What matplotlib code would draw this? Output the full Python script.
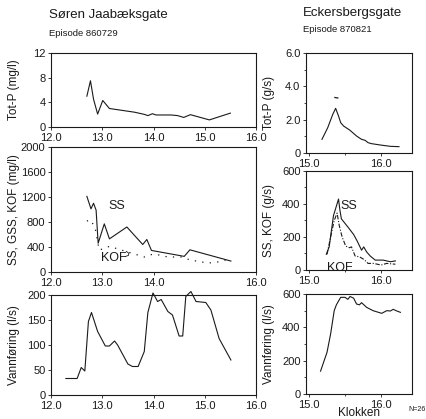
import numpy as np
import matplotlib
matplotlib.use("Agg")
import matplotlib.pyplot as plt
from matplotlib.ticker import MultipleLocator

plt.rcParams["font.family"] = ["Liberation Sans", "DejaVu Sans"]

# --- Søren Jaabæksgate, episode 860729 (clock hours) ---
totp_sj_t = [12.70, 12.77, 12.83, 12.91, 13.01, 13.14, 13.63, 13.82, 13.89, 13.98,
             14.05, 14.34, 14.47, 14.59, 14.72, 15.09, 15.50]
totp_sj = [5.0, 7.5, 4.5, 2.1, 4.3, 3.0, 2.4, 2.05, 1.85, 2.15,
           1.95, 1.95, 1.85, 1.55, 2.0, 1.15, 2.25]

ss_sj_t = [12.70, 12.78, 12.83, 12.88, 12.92, 13.04, 13.14, 13.48, 13.79, 13.87,
           13.96, 14.60, 14.71, 15.51]
ss_sj = [1210, 1010, 1100, 990, 460, 770, 530, 720, 440, 520,
         345, 250, 355, 175]

kof_sj_t = [12.70, 12.77, 12.86, 12.94, 13.14, 13.82, 13.92, 14.04, 14.28, 14.54,
            14.71, 14.93, 15.09, 15.25, 15.50]
kof_sj = [815, 835, 710, 350, 410, 240, 275, 285, 240, 240,
          195, 160, 145, 160, 210]

q_sj_t = [12.29, 12.51, 12.59, 12.66, 12.73, 12.79, 12.91, 13.06, 13.14, 13.24,
          13.30, 13.50, 13.59, 13.70, 13.82, 13.89, 13.99, 14.08, 14.15, 14.28,
          14.37, 14.50, 14.57, 14.63, 14.73, 14.83, 15.02, 15.12, 15.28, 15.51]
q_sj = [33, 33, 55, 48, 147, 165, 127, 98, 98, 108,
        100, 62, 57, 57, 87, 165, 204, 187, 191, 167,
        160, 118, 118, 197, 207, 187, 185, 170, 113, 70]

# --- Eckersbergsgate, episode 870821 ---
totp_eg_t = [15.18, 15.26, 15.33, 15.37, 15.41, 15.44, 15.48, 15.57, 15.66, 15.73,
             15.78, 15.82, 15.87, 15.99, 16.13, 16.25]
totp_eg = [0.82, 1.52, 2.32, 2.68, 2.22, 1.82, 1.62, 1.36, 1.02, 0.82,
           0.76, 0.62, 0.56, 0.48, 0.40, 0.38]

ss_eg_t = [15.24, 15.28, 15.34, 15.41, 15.43, 15.45, 15.55, 15.62, 15.67, 15.73,
           15.76, 15.80, 15.85, 15.92, 16.03, 16.13, 16.20]
ss_eg = [95, 140, 330, 430, 360, 310, 255, 215, 175, 120,
         140, 110, 85, 60, 60, 50, 55]

kof_eg_t = [15.25, 15.30, 15.35, 15.39, 15.42, 15.46, 15.51, 15.56, 15.59, 15.64,
            15.70, 15.76, 15.82, 15.90, 16.00, 16.08, 16.20]
kof_eg = [95, 200, 300, 345, 270, 200, 145, 135, 140, 85,
          80, 65, 40, 40, 30, 40, 35]

q_eg_t = [15.16, 15.25, 15.30, 15.35, 15.38, 15.44, 15.50, 15.54, 15.57, 15.62,
          15.66, 15.70, 15.73, 15.80, 15.89, 16.01, 16.08, 16.13, 16.17, 16.22, 16.27]
q_eg = [137, 250, 360, 500, 535, 580, 580, 568, 585, 575,
        540, 535, 548, 520, 500, 484, 500, 498, 508, 498, 490]

W, H = 427, 419
fig = plt.figure(figsize=(W / 100, H / 100), dpi=100)
ink = "#1a1a1a"


def make_axes(left, top, right, bottom):
    # pixel box -> figure fractions
    return fig.add_axes([left / W, 1 - bottom / H, (right - left) / W, (bottom - top) / H])


def style(ax):
    for sp in ax.spines.values():
        sp.set_linewidth(0.8)
        sp.set_color(ink)
    ax.tick_params(direction="out", length=2.5, width=0.6, pad=1.5,
                   labelsize=8, colors=ink)
    ax.tick_params(which="minor", direction="out", length=1.5, width=0.5)


line_kw = dict(color=ink, lw=0.8)

# Left column
ax1 = make_axes(51, 53, 256, 127)
ax1.plot(totp_sj_t, totp_sj, **line_kw)
ax1.set_xlim(12, 16)
ax1.set_ylim(0, 12)
ax1.set_yticks([0, 4, 8, 12])
ax1.set_xticks([12, 13, 14, 15, 16], ["12.0", "13.0", "14.0", "15.0", "16.0"])
ax1.set_ylabel("Tot-P (mg/l)", fontsize=8.5)
ax1.yaxis.set_label_coords(-0.15, 0.5)

ax2 = make_axes(51, 147, 256, 272)
ax2.plot(ss_sj_t, ss_sj, **line_kw)
ax2.plot(kof_sj_t, kof_sj, color=ink, lw=0.9, linestyle=(0, (1, 5)))
ax2.plot([13.47, 13.52, 13.51, 13.45], [330, 300, 265, 248], color=ink, lw=0.6)
ax2.text(13.12, 1050, "SS", fontsize=9, color=ink, va="center")
ax2.text(12.98, 225, "KOF", fontsize=9, color=ink, va="center")
ax2.set_xlim(12, 16)
ax2.set_ylim(0, 2000)
ax2.set_yticks([0, 400, 800, 1200, 1600, 2000])
ax2.set_xticks([12, 13, 14, 16], ["12.0", "13.0", "14.0", "16.0"])
ax2.set_ylabel("SS, GSS, KOF (mg/l)", fontsize=8.5)
ax2.yaxis.set_label_coords(-0.15, 0.5)

ax3 = make_axes(51, 295, 256, 395)
ax3.plot(q_sj_t, q_sj, clip_on=False, **line_kw)
ax3.set_xlim(12, 16)
ax3.set_ylim(0, 200)
ax3.set_yticks([0, 50, 100, 150, 200])
ax3.set_xticks([12, 13, 14, 15, 16], ["12.0", "13.0", "14.0", "15.0", "16.0"])
ax3.set_ylabel("Vannføring (l/s)", fontsize=8.5)
ax3.yaxis.set_label_coords(-0.15, 0.5)

# Right column
xl = (14.958, 16.431)
ax4 = make_axes(306, 53, 412, 153)
ax4.plot(totp_eg_t, totp_eg, **line_kw)
ax4.plot([15.36, 15.40], [3.33, 3.30], color=ink, lw=0.9)
ax4.set_xlim(*xl)
ax4.set_ylim(0, 6)
ax4.set_yticks([0, 2, 4, 6], ["0", "2.0", "4.0", "6.0"])
ax4.set_ylabel("Tot-P (g/s)", fontsize=8.5)

ax5 = make_axes(306, 171, 412, 270)
ax5.plot(ss_eg_t, ss_eg, **line_kw)
ax5.plot(kof_eg_t, kof_eg, color=ink, lw=0.8, linestyle=(0, (4, 1.5, 1, 1.5)))
ax5.text(15.44, 390, "SS", fontsize=9, color=ink, va="center")
ax5.text(15.25, 15, "KOF", fontsize=9, color=ink, va="center")
ax5.set_xlim(*xl)
ax5.set_ylim(0, 600)
ax5.set_yticks([0, 200, 400, 600])
ax5.set_ylabel("SS, KOF (g/s)", fontsize=8.5)

ax6 = make_axes(306, 294, 412, 394)
ax6.plot(q_eg_t, q_eg, **line_kw)
ax6.set_xlim(*xl)
ax6.set_ylim(0, 600)
ax6.set_yticks([0, 200, 400, 600])
ax6.set_ylabel("Vannføring (l/s)", fontsize=8.5)
ax6.set_xlabel("Klokken", fontsize=8.5, labelpad=-1.5, color=ink)

for ax in (ax4, ax5, ax6):
    ax.set_xticks([15, 16], ["15.0", "16.0"])
    ax.yaxis.set_minor_locator(MultipleLocator(ax.get_yticks()[1] / 2))
    ax.xaxis.set_minor_locator(MultipleLocator(0.5))
    ax.yaxis.set_label_coords(-0.29, 0.5)

for ax in (ax1, ax2, ax3, ax4, ax5, ax6):
    style(ax)
    ax.yaxis.label.set_color(ink)

# headings
fig.text(49 / W, 1 - 15 / H, "Søren Jaabæksgate", fontsize=9.5, color=ink, va="center")
fig.text(49 / W, 1 - 33 / H, "Episode 860729", fontsize=6.8, color=ink, va="center")
fig.text(303 / W, 1 - 13 / H, "Eckersbergsgate", fontsize=9.5, color=ink, va="center")
fig.text(303 / W, 1 - 29 / H, "Episode 870821", fontsize=6.8, color=ink, va="center")
fig.text(408 / W, 1 - 409 / H, "N=26", fontsize=5, color=ink, va="center")

fig.savefig("out.png", dpi=100, facecolor="white")
